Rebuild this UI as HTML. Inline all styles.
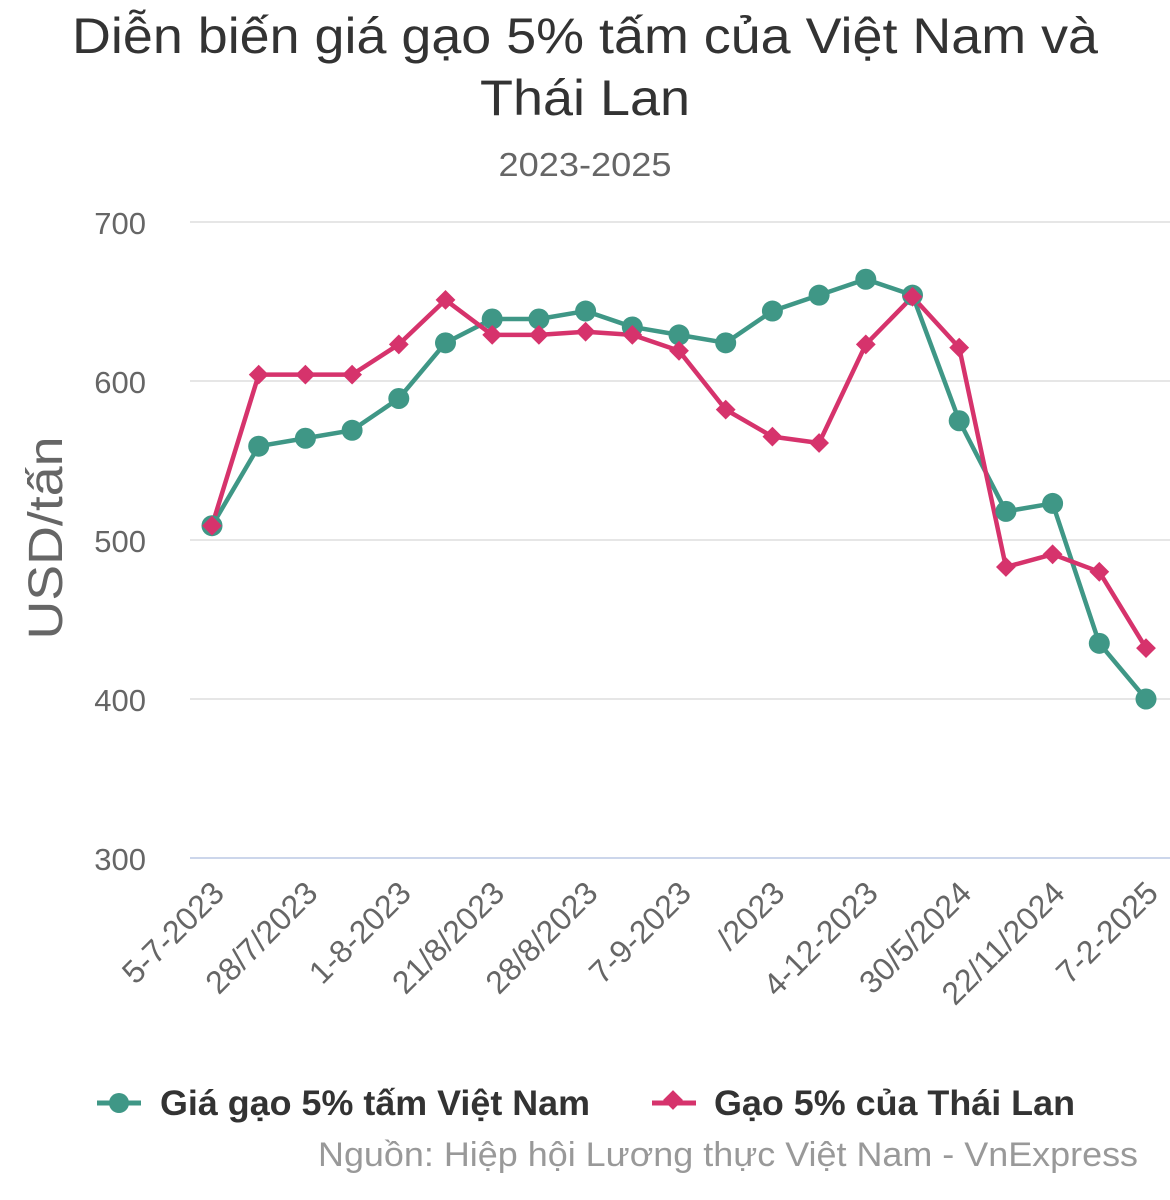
<!DOCTYPE html>
<html><head><meta charset="utf-8"><style>
body{margin:0;background:#fff;width:1170px;height:1195px;overflow:hidden;font-family:"Liberation Sans",sans-serif}
</style></head><body>
<svg id="chart" width="1170" height="1195" xmlns="http://www.w3.org/2000/svg" font-family="Liberation Sans, sans-serif">
<text x="585" y="53" text-anchor="middle" font-size="50" fill="#333" textLength="1026" lengthAdjust="spacingAndGlyphs">Diễn biến giá gạo 5% tấm của Việt Nam và</text>
<text x="585" y="115" text-anchor="middle" font-size="50" fill="#333" textLength="210" lengthAdjust="spacingAndGlyphs">Thái Lan</text>
<text x="585" y="176" text-anchor="middle" font-size="33" fill="#666" textLength="173" lengthAdjust="spacingAndGlyphs">2023-2025</text>
<text transform="translate(62,538) rotate(-90)" text-anchor="middle" font-size="48" fill="#666" textLength="203" lengthAdjust="spacingAndGlyphs">USD/tấn</text>
<g id="grid"></g><g id="xlabels"></g><g id="series"></g>
<g>
<g><line x1="97" y1="1103" x2="141" y2="1103" stroke="#3f9786" stroke-width="5"/><circle cx="119" cy="1103" r="10" fill="#3f9786"/><text x="160" y="1115" font-size="35" font-weight="bold" fill="#333" textLength="430" lengthAdjust="spacingAndGlyphs">Giá gạo 5% tấm Việt Nam</text></g>
<g><line x1="652" y1="1103" x2="696" y2="1103" stroke="#d6336c" stroke-width="5"/><rect x="666" y="1093" width="14" height="14" transform="rotate(45 673 1100)" fill="#d6336c"/><text x="714" y="1115" font-size="35" font-weight="bold" fill="#333" textLength="361" lengthAdjust="spacingAndGlyphs">Gạo 5% của Thái Lan</text></g>
</g>
<text x="318" y="1166" font-size="34" fill="#999" textLength="820" lengthAdjust="spacingAndGlyphs">Nguồn: Hiệp hội Lương thực Việt Nam - VnExpress</text>
</svg>
<script>
const categories=["5-7-2023","","28/7/2023","","1-8-2023","","21/8/2023","","28/8/2023","","7-9-2023","","/2023","","4-12-2023","","30/5/2024","","22/11/2024","","7-2-2025"];
const vietnam=[509,559,564,569,589,624,639,639,644,634,629,624,644,654,664,654,575,518,523,435,400];
const thailand=[509,604,604,604,623,651,629,629,631,629,619,582,565,561,623,653,621,483,491,480,432];
const yTicks=[300,400,500,600,700];
const NS="http://www.w3.org/2000/svg";
const x=i=>212+i*(1146-212)/(categories.length-1);
const y=v=>858-(v-300)*(858-222)/400;
function mk(t,a,p){const e=document.createElementNS(NS,t);for(const k in a)e.setAttribute(k,a[k]);p.appendChild(e);return e;}
const g=document.getElementById('grid');
yTicks.forEach(v=>{
 const l=mk('line',{x1:190,x2:1170,y1:y(v),y2:y(v),stroke:v===300?'#ccd6eb':'#e6e6e6','stroke-width':2},g);
 
 
 const t=mk('text',{x:146,y:y(v)+12,'text-anchor':'end','font-size':31,fill:'#666'},g);t.textContent=v;
 
 
});
const xl=document.getElementById('xlabels');
categories.forEach((c,i)=>{if(!c)return;
 const t=mk('text',{transform:`translate(${x(i)+14},${895}) rotate(-45)`,'text-anchor':'end','font-size':32,fill:'#666'},xl);t.textContent=c;
 
 
});
const s=document.getElementById('series');
function line(d,col,name){
 const p=mk('polyline',{points:d.map((v,i)=>x(i)+','+y(v)).join(' '),fill:'none',stroke:col,'stroke-width':4.5,'stroke-linejoin':'round'},s);
 
 
}
line(vietnam,'#3f9786','vietnam');line(thailand,'#d6336c','thailand');
vietnam.forEach((v,i)=>{const c=mk('circle',{cx:x(i),cy:y(v),r:10.5,fill:'#3f9786'},s);
 
 });
thailand.forEach((v,i)=>{const r=mk('rect',{x:x(i)-7,y:y(v)-7,width:14,height:14,fill:'#d6336c',transform:`rotate(45 ${x(i)} ${y(v)})`},s);
 
 });
</script>
</body></html>
